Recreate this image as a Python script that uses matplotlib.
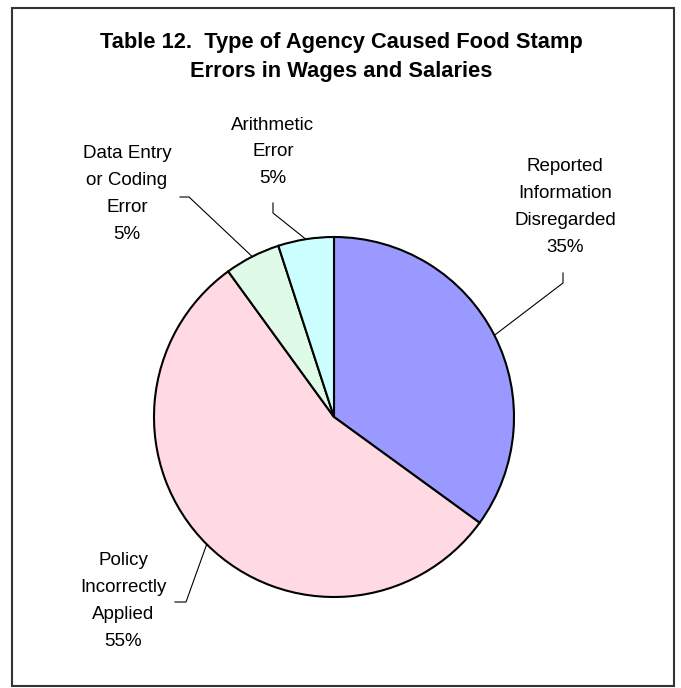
import numpy as np
import matplotlib
matplotlib.use("Agg")
import matplotlib.pyplot as plt
from matplotlib.patches import Rectangle

title = "Table 12.  Type of Agency Caused Food Stamp\nErrors in Wages and Salaries"
labels = ["Reported\nInformation\nDisregarded", "Policy\nIncorrectly\nApplied",
          "Data Entry\nor Coding\nError", "Arithmetic\nError"]
values = [35, 55, 5, 5]
colors = ["#9999FF", "#FFDAE3", "#E0FAE8", "#CCFFFF"]

# label placement (pixel coords, y down): text centre, elbow points of leader
text_pos = [(565, 207), (123, 601), (127, 194), (273, 152)]
elbows = [[(563, 273), (563, 283)],
          [(175, 602), (186, 602)],
          [(180, 197), (189, 197)],
          [(273, 203), (273, 213)]]

plt.rcParams['font.family'] = ['Liberation Sans', 'DejaVu Sans']

fig = plt.figure(figsize=(6.81, 6.88), dpi=100)
ax = fig.add_axes([0, 0, 1, 1])

cx, cy, r = 334, 417, 180
# y axis is inverted, so counterclock in data means clockwise on screen
wedges, _ = ax.pie(values, startangle=270, counterclock=True, colors=colors,
                   center=(cx, cy), radius=r, frame=True,
                   wedgeprops=dict(edgecolor='black', linewidth=1.5))
ax.set_xlim(0, 681)
ax.set_ylim(688, 0)
ax.set_aspect('equal')
ax.axis('off')

for w, lab, v, (tx, ty), elb in zip(wedges, labels, values, text_pos, elbows):
    mid = np.radians((w.theta1 + w.theta2) / 2)
    ex, ey = cx + r * np.cos(mid), cy + r * np.sin(mid)
    xs = [elb[0][0], elb[1][0], ex]
    ys = [elb[0][1], elb[1][1], ey]
    ax.plot(xs, ys, color='black', lw=0.8, zorder=1)
    ax.text(tx, ty, lab + "\n" + str(v) + "%", ha='center', va='center',
            fontsize=13.5, linespacing=1.75)

ax.text(341, 57, title, ha='center', va='center', fontsize=15.75,
        fontweight='bold', linespacing=1.55)

ax.add_patch(Rectangle((12, 8), 662, 678, fill=False, edgecolor='#333333',
                       lw=1.5, clip_on=False))

fig.savefig("out.png", dpi=100)
